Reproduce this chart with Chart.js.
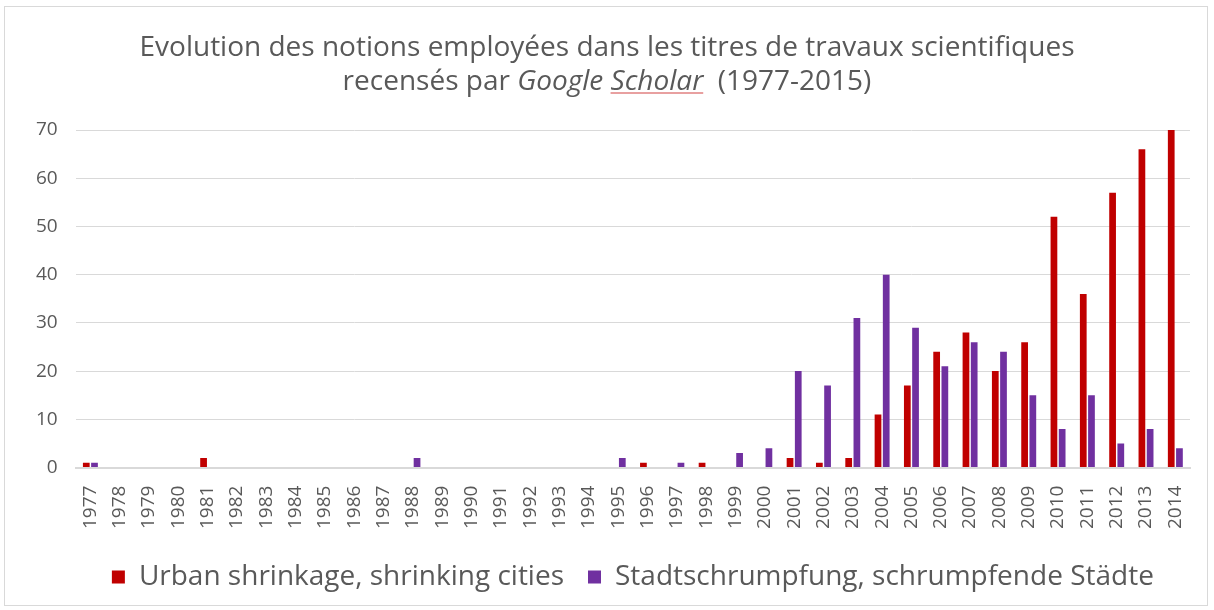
<!DOCTYPE html>
<html>
<head>
<meta charset="utf-8">
<script src="https://cdn.jsdelivr.net/npm/chart.js@4/dist/chart.umd.min.js"></script>
<style>
html, body { margin: 0; padding: 0; background: #fff; }
#frame {
  position: absolute; left: 4px; top: 6px; width: 1204px; height: 600px;
  border: 1px solid #d9d9d9; box-sizing: border-box;
}
#title {
  position: absolute; left: 0; top: 28px; width: 1214px; text-align: center;
  font-family: "Open Sans", "DejaVu Sans", sans-serif; font-size: 28px; line-height: 34px;
  color: #595959; z-index: 2;
}
#title .sch { text-decoration: underline; text-decoration-color: #e8a0a0; }
#wrap { position: absolute; left: 0; top: 0; width: 1214px; height: 610px; }
</style>
</head>
<body>
<div id="frame"></div>
<div id="title">Evolution des notions employées dans les titres de travaux scientifiques<br>recensés par <i>Google <span class="sch">Scholar</span></i>&nbsp; (1977-2015)</div>
<div id="wrap"><canvas id="myChart"></canvas></div>
<script>
const years = ['1977','1978','1979','1980','1981','1982','1983','1984','1985','1986','1987','1988','1989','1990','1991','1992','1993','1994','1995','1996','1997','1998','1999','2000','2001','2002','2003','2004','2005','2006','2007','2008','2009','2010','2011','2012','2013','2014'];
const urbanShrinkage = [1,0,0,0,2,0,0,0,0,0,0,0,0,0,0,0,0,0,0,1,0,1,0,0,2,1,2,11,17,24,28,20,26,52,36,57,66,70];
const stadtschrumpfung = [1,0,0,0,0,0,0,0,0,0,0,2,0,0,0,0,0,0,2,0,1,0,3,4,20,17,31,40,29,21,26,24,15,8,15,5,8,4];
const seriesNames = ['Urban shrinkage, shrinking cities', 'Stadtschrumpfung, schrumpfende Städte'];

const textGrey = '#595959';
const fontFam = '"Open Sans", "DejaVu Sans", sans-serif';

const data = {
  labels: years,
  datasets: [{
    label: seriesNames[0],
    data: urbanShrinkage,
    backgroundColor: '#c00000',
    categoryPercentage: 0.56,
    barPercentage: 0.82
  }, {
    label: seriesNames[1],
    data: stadtschrumpfung,
    backgroundColor: '#7030a0',
    categoryPercentage: 0.56,
    barPercentage: 0.82
  }]
};

const config = {
  type: 'bar',
  data: data,
  options: {
    responsive: false,
    animation: false,
    layout: { padding: { left: 18, right: 24, top: 130, bottom: 9 } },
    plugins: {
      legend: {
        position: 'bottom',
        fullSize: false,
        labels: {
          color: textGrey,
          boxWidth: 13,
          boxHeight: 13,
          padding: 24,
          font: { family: fontFam, size: 28 }
        }
      },
      tooltip: { enabled: false }
    },
    scales: {
      x: {
        grid: { display: false },
        border: { color: '#d9d9d9', width: 2 },
        ticks: {
          color: textGrey,
          maxRotation: 90,
          minRotation: 90,
          autoSkip: false,
          padding: 10,
          font: { family: fontFam, size: 19 }
        }
      },
      y: {
        min: 0,
        max: 70,
        ticks: {
          stepSize: 10,
          color: textGrey,
          padding: 18,
          font: { family: fontFam, size: 19 }
        },
        border: { display: false },
        grid: { color: '#d9d9d9', lineWidth: 1, drawTicks: false }
      }
    }
  }
};

const canvas = document.getElementById('myChart');
canvas.width = 1214;
canvas.height = 610;
const myChart = new Chart(canvas, config);
</script>
</body>
</html>
